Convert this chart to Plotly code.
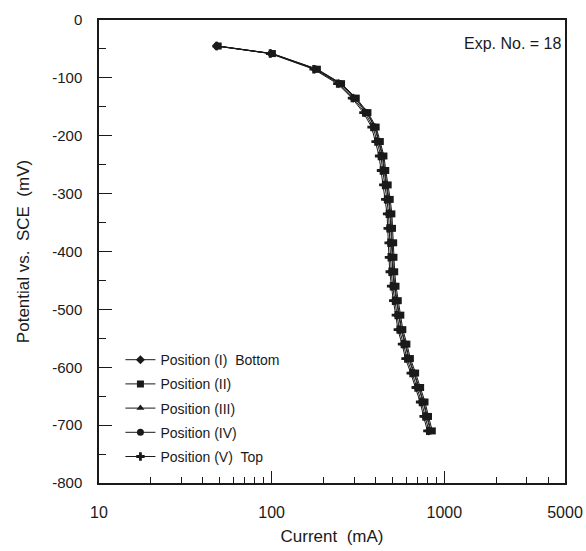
import plotly.graph_objects as go

# Potential (mV vs SCE) for every measured point
potential = [-45, -58, -85, -110, -135, -160, -185, -210, -235, -260, -285, -310, -335, -360,
             -385, -410, -435, -460, -485, -510, -535, -560, -585, -610, -635, -660, -685, -710]

# Current (mA) for each position
pos_I = [48, 99, 178, 245, 297, 347, 387, 409, 429, 440, 453, 465, 475, 479,
         486, 488, 493, 502, 517, 534, 549, 580, 608, 651, 696, 738, 774, 814]
pos_II = [49, 101, 184, 254, 309, 361, 403, 426, 447, 458, 473, 486, 497, 501,
          509, 511, 516, 525, 541, 560, 575, 607, 636, 682, 729, 773, 810, 852]
pos_III = [49, 100, 182, 251, 305, 357, 398, 420, 441, 452, 466, 478, 490, 494,
           501, 503, 508, 517, 532, 551, 566, 598, 626, 671, 718, 761, 798, 838]
pos_IV = [48, 100, 181, 249, 303, 354, 395, 417, 437, 448, 462, 474, 485, 489,
          496, 498, 503, 512, 527, 546, 561, 592, 620, 665, 711, 754, 790, 830]
pos_V = [48, 98, 175, 240, 292, 340, 379, 400, 419, 430, 443, 455, 466, 470,
         476, 478, 483, 492, 506, 524, 538, 569, 596, 639, 683, 724, 759, 798]

series_names = ["Position (I)\u00a0\u00a0Bottom", "Position (II)", "Position (III)",
                "Position (IV)", "Position (V)\u00a0\u00a0Top"]
series_values = [pos_I, pos_II, pos_III, pos_IV, pos_V]
symbols = ["diamond", "square", "triangle-up", "circle", "cross"]

x_tickvals = [10, 100, 1000, 5000]
x_ticktext = ["10", "100", "1000", "5000"]
x_minor = [20, 30, 40, 50, 60, 70, 80, 90, 200, 300, 400, 500, 600, 700, 800, 900,
           2000, 3000, 4000]
y_tickvals = [0, -100, -200, -300, -400, -500, -600, -700, -800]
y_ticktext = ["0", "-100", "-200", "-300", "-400", "-500", "-600", "-700", "-800"]

INK = "#1a1a1a"
fig = go.Figure()
for name, vals, sym in zip(series_names, series_values, symbols):
    fig.add_trace(go.Scatter(
        x=vals, y=potential, mode="lines+markers", name=name, legendgroup=name,
        line=dict(color=INK, width=1),
        marker=dict(symbol=sym, size=7, color=INK, line=dict(width=0)),
    ))

fig.add_annotation(text="Exp. No. = 18", xref="paper", yref="paper", x=0.995, y=0.95,
                   xanchor="right", yanchor="middle", showarrow=False,
                   font=dict(family="Arial, Liberation Sans", size=16, color=INK))

fig.update_layout(
    width=586, height=551,
    margin=dict(l=99, r=21, t=20, b=68),
    paper_bgcolor="white", plot_bgcolor="white",
    font=dict(family="Arial, Liberation Sans", color=INK),
    showlegend=True,
    legend=dict(x=0.046, y=0.30, xanchor="left", yanchor="top",
                bgcolor="rgba(0,0,0,0)", font=dict(size=14, color=INK),
                tracegroupgap=3, itemwidth=30),
    xaxis=dict(type="log", range=[1, 3.69897], showgrid=False, zeroline=False,
               automargin=False,
               showline=True, linecolor=INK, linewidth=1.5, mirror=True,
               ticks="inside", ticklen=12, tickwidth=1.2, tickcolor=INK,
               tickvals=x_tickvals, ticktext=x_ticktext,
               tickfont=dict(size=16), ticklabelstandoff=14,
               minor=dict(tickvals=x_minor, ticks="inside", ticklen=6, tickwidth=1.2,
                          tickcolor=INK, showgrid=False),
               title=dict(text="Current\u00a0\u00a0(mA)", font=dict(size=17), standoff=10)),
    yaxis=dict(range=[-800, 0], showgrid=False, zeroline=False,
               automargin=False,
               showline=True, linecolor=INK, linewidth=1.5, mirror=True,
               ticks="inside", ticklen=13, tickwidth=1.2, tickcolor=INK,
               tickvals=y_tickvals, ticktext=y_ticktext,
               tickfont=dict(size=15), ticklabelstandoff=12,
               minor=dict(dtick=50, ticks="inside", ticklen=7, tickwidth=1.2,
                          tickcolor=INK, showgrid=False),
               title=dict(text="Potential vs.\u00a0\u00a0SCE\u00a0\u00a0(mV)",
                          font=dict(size=17), standoff=18)),
)

fig.write_html("out.html")
